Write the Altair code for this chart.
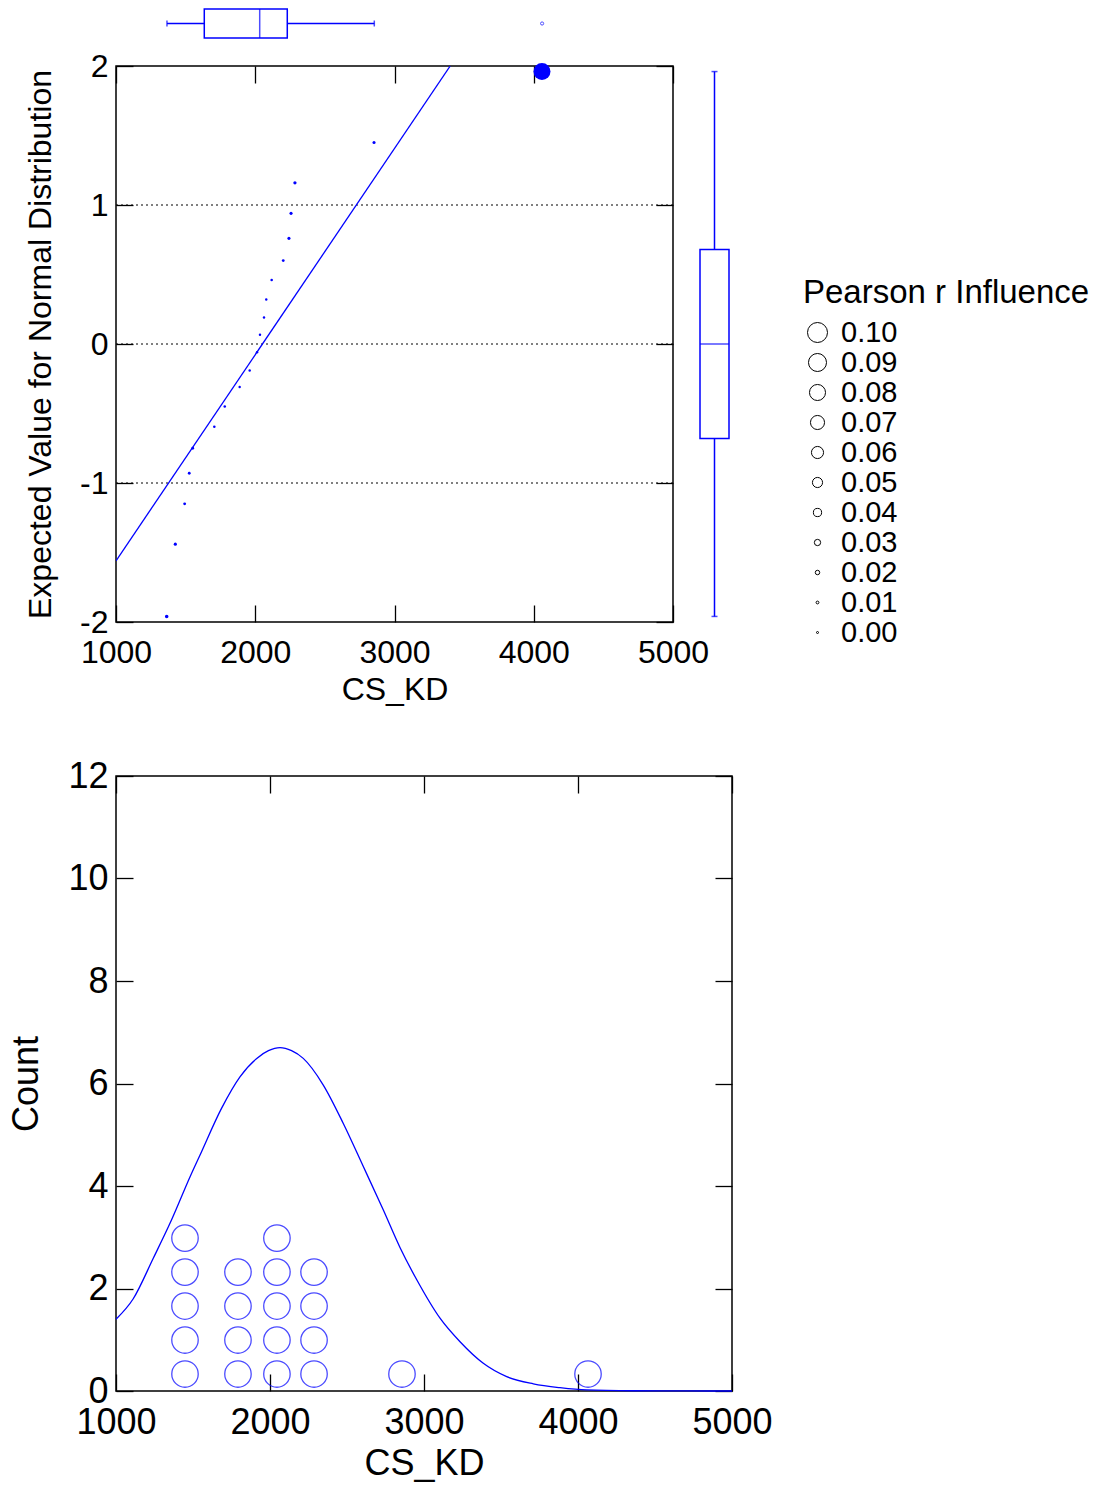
import altair as alt
import pandas as pd

# ---------------- data ----------------
cs_kd = [1364, 1426, 1493, 1526, 1551, 1706, 1781, 1888, 1960, 2013,
         2034, 2063, 2079, 2118, 2201, 2242, 2257, 2285, 2853, 4059]
expected_normal = [-1.96, -1.44, -1.15, -0.93, -0.75, -0.595, -0.45, -0.31, -0.19, -0.06,
                   0.067, 0.19, 0.32, 0.46, 0.60, 0.76, 0.94, 1.16, 1.45, 1.96]
influence = [0.015, 0.012, 0.010, 0.010, 0.010, 0.008, 0.008, 0.007, 0.007, 0.007,
             0.007, 0.007, 0.007, 0.008, 0.010, 0.012, 0.012, 0.013, 0.012, 0.085]

fit_x = [1000, 3400]
fit_y = [-1.56, 2.0]

# marginal box plots
top_box = {"lo": 1366, "q1": 1634, "med": 2032, "q3": 2230, "hi": 2855}
top_outliers = [4060]
right_box = {"lo": -1.96, "q1": -0.68, "med": 0.0, "q3": 0.68, "hi": 1.96}

legend_values = [0.10, 0.09, 0.08, 0.07, 0.06, 0.05, 0.04, 0.03, 0.02, 0.01, 0.00]

x_ticks = [1000, 2000, 3000, 4000, 5000]
z_ticks = [-2, -1, 0, 1, 2]
z_grid = [-1, 0, 1]
count_ticks = [0, 2, 4, 6, 8, 10, 12]

# dot plot (bottom)
bin_centers = [1448, 1792, 2045, 2286, 2857, 4065]
bin_counts = [5, 4, 5, 4, 1, 1]

# normal curve (bottom)
curve_x = [1000, 1112, 1242, 1361, 1481, 1545, 1686, 1805, 1914, 1990, 2065, 2140, 2216,
           2346, 2476, 2606, 2736, 2844, 2953, 3104, 3234, 3385, 3537, 3710, 3883,
           4056, 4359, 4700, 5000]
curve_y = [1.40, 1.80, 2.59, 3.34, 4.18, 4.60, 5.52, 6.13, 6.49, 6.64, 6.70, 6.64, 6.49,
           5.97, 5.22, 4.38, 3.53, 2.80, 2.17, 1.42, 0.96, 0.54, 0.28, 0.14, 0.065,
           0.02, 0.005, 0.001, 0.0]

# ---------------- styles ----------------
BLUE = "#0000FF"
FONT = "Liberation Sans"
W1, H1 = 557, 556
W2, H2 = 616, 615
TICK = 17
FS1 = 32
FS2 = 36
LBL = "'' + datum.value"

pts = pd.DataFrame({"CS_KD": cs_kd, "z": expected_normal, "infl": influence})
fit_df = pd.DataFrame({"CS_KD": fit_x, "z": fit_y})
grid_df = pd.DataFrame({"g": z_grid})

xs1 = alt.Scale(domain=[1000, 5000], nice=False, zero=False)
ys1 = alt.Scale(domain=[-2, 2], nice=False, zero=False)
size_scale = alt.Scale(type="pow", exponent=2, domain=[0, 0.1], range=[4, 400])


def ax(orient, fs, values, title=None, labels=True, lpad=8, tpad=8):
    kw = dict(orient=orient, values=values, offset=-TICK, tickSize=TICK,
              domain=False, grid=False, labels=labels, labelFlush=False,
              labelOverlap=False, labelFontSize=fs, titleFontSize=fs,
              labelPadding=lpad, titlePadding=tpad, labelExpr=LBL)
    kw["title"] = title
    return alt.Axis(**kw)


# ---------- top panel: normal probability plot ----------
grid = alt.Chart(grid_df).mark_rule(color="black", strokeDash=[2, 3], strokeWidth=1).encode(
    y=alt.Y("g:Q", scale=ys1, axis=None))

fit = alt.Chart(fit_df).mark_line(color=BLUE, strokeWidth=1.3, clip=True).encode(
    x=alt.X("CS_KD:Q", scale=xs1, axis=None),
    y=alt.Y("z:Q", scale=ys1, axis=None))

points = alt.Chart(pts).mark_circle(color=BLUE, opacity=1).encode(
    x=alt.X("CS_KD:Q", scale=xs1,
            axis=ax("bottom", FS1, x_ticks, title="CS_KD", lpad=15, tpad=6)),
    y=alt.Y("z:Q", scale=ys1,
            axis=ax("left", FS1, z_ticks, title="Expected Value for Normal Distribution",
                    lpad=8, tpad=22)),
    size=alt.Size("infl:Q", scale=size_scale, legend=None))

legend_layer = alt.Chart(pts).mark_point(
    filled=False, color="black", strokeWidth=1, opacity=0).encode(
    x=alt.X("CS_KD:Q", scale=xs1, axis=ax("top", FS1, x_ticks, labels=False)),
    y=alt.Y("z:Q", scale=ys1, axis=ax("right", FS1, z_ticks, labels=False)),
    size=alt.Size("infl:Q", scale=size_scale,
                  legend=alt.Legend(title="Pearson r Influence", orient="none",
                                    direction="vertical", legendX=687, legendY=211,
                                    values=legend_values, format=".2f",
                                    labelFontSize=29, titleFontSize=33,
                                    titleFontWeight="normal", titleLimit=600,
                                    labelOffset=9, rowPadding=0, padding=0,
                                    titlePadding=8, symbolType="circle",
                                    symbolStrokeColor="black", symbolStrokeWidth=1,
                                    symbolFillColor="transparent",
                                    symbolOpacity=1, labelColor="black",
                                    titleColor="black", labelFont=FONT, titleFont=FONT)))

main_top = alt.layer(grid, fit, points, legend_layer).resolve_scale(size="independent")

# top marginal box plot
tb_df = pd.DataFrame({"var": ["CS_KD"], **{k: [v] for k, v in top_box.items()}})
tb_caps = pd.DataFrame({"var": ["CS_KD", "CS_KD"], "v": [top_box["lo"], top_box["hi"]]})
tb_out = pd.DataFrame({"var": ["CS_KD"] * len(top_outliers), "v": top_outliers})
yb = alt.Y("var:N", axis=None,
           scale=alt.Scale(range=[-57, -28], paddingInner=0, paddingOuter=0))
xb = alt.Scale(domain=[1000, 5000], nice=False, zero=False)

tb = alt.layer(
    alt.Chart(tb_df).mark_rule(color=BLUE, strokeWidth=1.5).encode(
        x=alt.X("lo:Q", scale=xb, axis=None), x2="hi:Q", y=yb),
    alt.Chart(tb_df).mark_bar(fill="white", stroke=BLUE, strokeWidth=1.5).encode(
        x=alt.X("q1:Q", scale=xb, axis=None), x2="q3:Q", y=yb),
    alt.Chart(tb_df).mark_tick(color=BLUE, thickness=1.5, size=29).encode(
        x=alt.X("med:Q", scale=xb, axis=None), y=yb),
    alt.Chart(tb_caps).mark_tick(color=BLUE, thickness=1.5, size=6).encode(
        x=alt.X("v:Q", scale=xb, axis=None), y=yb),
    alt.Chart(tb_out).mark_point(color=BLUE, filled=False, size=10, strokeWidth=1).encode(
        x=alt.X("v:Q", scale=xb, axis=None), y=yb),
)

# right marginal box plot
rb_df = pd.DataFrame({"var": ["z"], **{k: [v] for k, v in right_box.items()}})
rb_caps = pd.DataFrame({"var": ["z", "z"], "v": [right_box["lo"], right_box["hi"]]})
xr = alt.X("var:N", axis=None,
           scale=alt.Scale(range=[W1 + 27, W1 + 56], paddingInner=0, paddingOuter=0))
yr = alt.Scale(domain=[-2, 2], nice=False, zero=False)

rb = alt.layer(
    alt.Chart(rb_df).mark_rule(color=BLUE, strokeWidth=1.5).encode(
        y=alt.Y("lo:Q", scale=yr, axis=None), y2="hi:Q", x=xr),
    alt.Chart(rb_df).mark_bar(fill="white", stroke=BLUE, strokeWidth=1.5).encode(
        y=alt.Y("q1:Q", scale=yr, axis=None), y2="q3:Q", x=xr),
    alt.Chart(rb_df).mark_tick(color=BLUE, thickness=1.5, size=29).encode(
        y=alt.Y("med:Q", scale=yr, axis=None), x=xr),
    alt.Chart(rb_caps).mark_tick(color=BLUE, thickness=1.5, size=6).encode(
        y=alt.Y("v:Q", scale=yr, axis=None), x=xr),
)

top = alt.layer(main_top, tb, rb).resolve_scale(
    x="independent", y="independent").properties(width=W1, height=H1)

# ---------- bottom panel: dot plot with normal curve ----------
curve_df = pd.DataFrame({"cx": curve_x, "cy": curve_y})
rows = []
for c, n in zip(bin_centers, bin_counts):
    for k in range(1, n + 1):
        rows.append({"bx": c, "level": k})
dots_df = pd.DataFrame(rows)

xs2 = alt.Scale(domain=[1000, 5000], nice=False, zero=False)
ys2 = alt.Scale(domain=[0, 12], nice=False, zero=False)

curve = alt.Chart(curve_df).mark_line(color=BLUE, strokeWidth=1.3, interpolate="monotone").encode(
    x=alt.X("cx:Q", scale=xs2, axis=ax("bottom", FS2, x_ticks, title="CS_KD", lpad=14, tpad=6)),
    y=alt.Y("cy:Q", scale=ys2, axis=ax("left", FS2, count_ticks, title="Count", lpad=8, tpad=22)))

curve_axes = alt.Chart(curve_df).mark_line(opacity=0).encode(
    x=alt.X("cx:Q", scale=xs2, axis=ax("top", FS2, x_ticks, labels=False)),
    y=alt.Y("cy:Q", scale=ys2, axis=ax("right", FS2, count_ticks, labels=False)))

dots = alt.Chart(dots_df).mark_point(color=BLUE, filled=False, size=700, strokeWidth=1.3).encode(
    x=alt.X("bx:Q", scale=xs2, axis=None),
    y=alt.Y("level:Q", scale=alt.Scale(domain=[0.5, 18.6], nice=False, zero=False), axis=None))

bottom = alt.layer(alt.layer(curve, curve_axes), dots).resolve_scale(
    y="independent").properties(width=W2, height=H2)

chart = alt.vconcat(top, bottom, spacing=154, bounds="flush").properties(
    padding={"left": 8, "top": 7, "right": 5, "bottom": 5}
).configure(font=FONT).configure_view(
    stroke="black", strokeWidth=1.5
).configure_axis(
    labelFont=FONT, titleFont=FONT, labelColor="black", titleColor="black",
    tickColor="black", tickWidth=1.3, titleFontWeight="normal"
)

chart.save("out.html", embed_options={"renderer": "svg", "actions": False})
